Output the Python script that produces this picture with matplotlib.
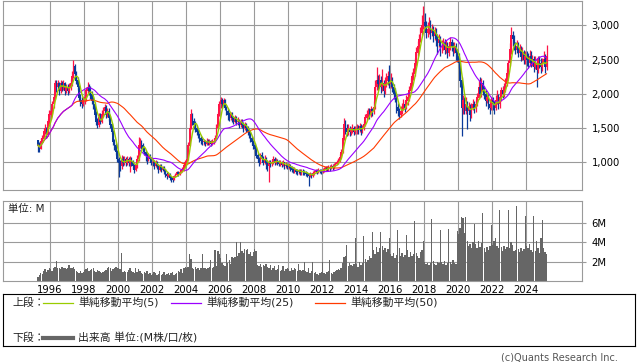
import matplotlib
matplotlib.use("Agg")
import matplotlib.pyplot as plt
from matplotlib.lines import Line2D
import numpy as np
import pandas as pd

plt.rcParams['font.family'] = ['DejaVu Sans', 'Noto Sans CJK JP']

# monthly data, Apr 1995 .. Mar 2025
start_year, start_month = 1995, 4
first_open = 1320

closes = [
    1250, 1200, 1300, 1350, 1450, 1500, 1400, 1600, 1700,                   # 1995 Apr-Dec
    1750, 1850, 1950, 2150, 2100, 2150, 2050, 2150, 2100, 2150, 2050, 2100, # 1996
    2050, 2100, 2150, 2250, 2400, 2300, 2200, 2100, 1950, 1900, 1850, 1900, # 1997
    1950, 2050, 2100, 2050, 2000, 1900, 1850, 1700, 1600, 1550, 1650, 1600, # 1998
    1700, 1750, 1800, 1700, 1750, 1650, 1550, 1450, 1300, 1250, 1150, 1050, # 1999
    1000, 950, 1050, 1000, 1050, 1000, 1050, 1000, 1050, 1000, 950, 900,    # 2000
    950, 1050, 1250, 1300, 1250, 1200, 1150, 1100, 1050, 1100, 1050, 1000,  # 2001
    1000, 950, 1000, 950, 900, 950, 900, 920, 880, 830, 800, 820,           # 2002
    780, 760, 750, 800, 820, 850, 830, 860, 880, 900, 950, 1000,            # 2003
    1050, 1250, 1500, 1700, 1600, 1550, 1500, 1450, 1400, 1350, 1320, 1300, # 2004
    1300, 1280, 1310, 1290, 1300, 1280, 1300, 1310, 1350, 1500, 1700, 1850, # 2005
    1900, 1850, 1900, 1800, 1750, 1700, 1650, 1700, 1650, 1600, 1650, 1600, # 2006
    1600, 1550, 1600, 1550, 1500, 1550, 1500, 1450, 1400, 1350, 1300, 1250, # 2007
    1200, 1100, 1050, 1000, 1100, 1050, 1000, 1050, 1000, 950, 1000, 980,   # 2008
    1000, 1050, 1000, 1020, 1000, 980, 1000, 970, 1000, 950, 960, 940,      # 2009
    950, 920, 900, 880, 900, 870, 860, 880, 850, 870, 860, 850,             # 2010
    840, 820, 800, 830, 810, 840, 860, 880, 870, 890, 880, 870,             # 2011
    890, 900, 920, 910, 930, 920, 940, 930, 960, 980, 1000, 1020,           # 2012
    1080, 1150, 1350, 1550, 1500, 1450, 1500, 1450, 1480, 1500, 1450, 1480, # 2013
    1500, 1480, 1520, 1470, 1500, 1550, 1650, 1700, 1750, 1700, 1780, 1750, # 2014
    1800, 2100, 2200, 2150, 2200, 2100, 2150, 2050, 2150, 2200, 2250, 2150, # 2015
    2200, 2100, 2000, 1950, 1800, 1750, 1700, 1750, 1800, 1850, 1800, 1900, # 2016
    1950, 2050, 2150, 2250, 2300, 2450, 2600, 2700, 2800, 2900, 3000, 3050, # 2017
    3000, 2900, 2950, 3000, 2900, 2950, 2850, 2900, 2800, 2750, 2800, 2700, # 2018
    2700, 2750, 2650, 2700, 2600, 2700, 2750, 2700, 2650, 2700, 2600, 2550, # 2019
    2450, 2200, 1800, 1900, 1750, 1850, 1750, 1800, 1700, 1800, 1850, 1800, # 2020
    1850, 1950, 2100, 2000, 2150, 2050, 2000, 1900, 1950, 1850, 1800, 1900, # 2021
    1850, 1800, 1900, 1950, 1850, 1950, 2050, 2000, 2100, 2150, 2300, 2450, # 2022
    2650, 2850, 2800, 2700, 2650, 2700, 2600, 2650, 2550, 2600, 2500, 2550, # 2023
    2500, 2450, 2550, 2450, 2500, 2400, 2450, 2350, 2500, 2450, 2400, 2450, # 2024
    2500, 2400, 2550,                                                       # 2025 Jan-Mar
]

highs = [
    1330, 1290, 1360, 1400, 1500, 1560, 1520, 1640, 1760,
    1800, 1900, 2000, 2200, 2200, 2210, 2180, 2200, 2190, 2200, 2170, 2150,
    2140, 2160, 2220, 2330, 2500, 2430, 2330, 2250, 2130, 2000, 1950, 1960,
    2000, 2100, 2180, 2150, 2120, 2040, 1950, 1880, 1750, 1650, 1720, 1720,
    1760, 1810, 1850, 1840, 1800, 1790, 1680, 1580, 1470, 1340, 1280, 1180,
    1080, 1040, 1100, 1090, 1090, 1080, 1090, 1080, 1090, 1080, 1040, 980,
    990, 1100, 1370, 1350, 1320, 1280, 1230, 1180, 1130, 1140, 1120, 1080,
    1050, 1030, 1030, 1020, 980, 980, 980, 950, 940, 900, 860, 850,
    840, 800, 790, 820, 850, 880, 880, 890, 910, 930, 980, 1040,
    1090, 1300, 1560, 1775, 1720, 1650, 1600, 1540, 1480, 1430, 1380, 1360,
    1340, 1330, 1350, 1340, 1340, 1320, 1340, 1350, 1400, 1560, 1740, 1900,
    1950, 1940, 1940, 1920, 1830, 1790, 1740, 1740, 1730, 1680, 1690, 1680,
    1660, 1630, 1640, 1640, 1590, 1590, 1580, 1530, 1480, 1440, 1380, 1330,
    1280, 1230, 1140, 1080, 1140, 1150, 1090, 1100, 1080, 1030, 1040, 1040,
    1050, 1090, 1080, 1060, 1050, 1040, 1040, 1020, 1040, 1010, 1000, 990,
    990, 970, 940, 930, 930, 910, 900, 910, 900, 900, 900, 890,
    880, 860, 850, 860, 850, 870, 890, 910, 900, 920, 910, 900,
    920, 930, 950, 950, 960, 960, 970, 970, 990, 1010, 1040, 1060,
    1120, 1200, 1400, 1645, 1620, 1560, 1560, 1530, 1520, 1560, 1530, 1530,
    1560, 1550, 1580, 1560, 1550, 1600, 1700, 1760, 1800, 1790, 1820, 1800,
    1900, 2200, 2390, 2280, 2290, 2260, 2370, 2200, 2240, 2310, 2340, 2420,
    2300, 2250, 2150, 2080, 2000, 1870, 1800, 1820, 1870, 1920, 1900, 1980,
    2000, 2120, 2230, 2320, 2380, 2520, 2680, 2770, 2880, 2980, 3150, 3280,
    3180, 3060, 3050, 3120, 3080, 3020, 2990, 2980, 2960, 2880, 2870, 2850,
    2780, 2820, 2800, 2780, 2760, 2760, 2830, 2800, 2760, 2760, 2740, 2660,
    2600, 2500, 2250, 1980, 1950, 1950, 1900, 1880, 1850, 1870, 1920, 1900,
    1920, 2020, 2200, 2250, 2230, 2200, 2110, 2060, 2000, 2000, 1920, 1960,
    1960, 1900, 1980, 2050, 2000, 2020, 2100, 2120, 2160, 2230, 2360, 2500,
    2750, 2970, 2920, 2860, 2760, 2780, 2760, 2730, 2700, 2680, 2640, 2620,
    2620, 2600, 2640, 2620, 2570, 2560, 2560, 2520, 2560, 2560, 2520, 2530,
    2620, 2580, 2720,
]

lows = [
    1150, 1150, 1190, 1280, 1330, 1420, 1360, 1390, 1560,
    1640, 1710, 1800, 1920, 2030, 2050, 1990, 2010, 2040, 2060, 1990, 2010,
    1980, 2010, 2060, 2110, 2230, 2230, 2140, 2050, 1900, 1820, 1800, 1820,
    1850, 1900, 2010, 1990, 1930, 1850, 1780, 1660, 1540, 1500, 1520, 1560,
    1570, 1660, 1710, 1650, 1660, 1600, 1500, 1410, 1250, 1180, 1100, 1000,
    790, 880, 910, 950, 960, 950, 960, 950, 860, 940, 900, 850,
    870, 920, 1020, 1210, 1200, 1150, 1100, 1020, 980, 1020, 1000, 960,
    940, 910, 930, 900, 850, 870, 860, 870, 830, 790, 760, 780,
    740, 710, 720, 740, 780, 800, 800, 820, 840, 860, 880, 930,
    980, 1040, 1240, 1480, 1540, 1480, 1440, 1400, 1350, 1300, 1270, 1260,
    1260, 1240, 1250, 1250, 1260, 1240, 1250, 1270, 1290, 1340, 1480, 1680,
    1800, 1790, 1820, 1760, 1690, 1620, 1600, 1620, 1590, 1560, 1570, 1550,
    1540, 1500, 1520, 1500, 1450, 1470, 1450, 1400, 1350, 1300, 1260, 1200,
    1130, 1060, 1000, 950, 980, 1000, 960, 980, 900, 880, 710, 930,
    950, 970, 960, 970, 960, 940, 950, 930, 950, 910, 920, 900,
    910, 880, 860, 840, 850, 830, 820, 830, 810, 820, 820, 810,
    800, 780, 660, 780, 770, 790, 820, 840, 830, 850, 840, 830,
    850, 860, 880, 870, 880, 880, 900, 890, 910, 940, 960, 980,
    1000, 1060, 1130, 1330, 1420, 1390, 1400, 1390, 1400, 1430, 1400, 1410,
    1420, 1420, 1440, 1400, 1430, 1470, 1530, 1620, 1660, 1630, 1660, 1680,
    1700, 1780, 2050, 2060, 2080, 2020, 2040, 1960, 2000, 2100, 2130, 2080,
    2080, 2030, 1920, 1880, 1720, 1680, 1640, 1660, 1700, 1760, 1730, 1780,
    1840, 1900, 2010, 2120, 2200, 2260, 2400, 2550, 2660, 2760, 2860, 2950,
    2900, 2820, 2830, 2880, 2800, 2840, 2760, 2790, 2700, 2580, 2680, 2550,
    2600, 2640, 2580, 2600, 2520, 2560, 2640, 2620, 2560, 2590, 2500, 2470,
    2380, 2100, 1380, 1700, 1700, 1700, 1485, 1700, 1600, 1650, 1760, 1720,
    1740, 1820, 1920, 1960, 1960, 1980, 1920, 1830, 1860, 1780, 1700, 1760,
    1760, 1700, 1760, 1850, 1780, 1800, 1900, 1940, 1950, 2030, 2120, 2250,
    2400, 2580, 2700, 2640, 2580, 2600, 2540, 2560, 2480, 2500, 2440, 2440,
    2410, 2380, 2400, 2390, 2400, 2320, 2360, 2100, 2300, 2380, 2300, 2340,
    2400, 2300, 2350,
]

# volume in millions
volume = [
    0.4, 0.6, 0.8, 0.7, 1.0, 1.2, 0.9, 1.1, 1.3,
    1.2, 1.0, 1.3, 1.5, 2.1, 1.4, 1.3, 1.2, 1.5, 1.3, 1.4, 1.2,
    1.3, 1.7, 1.4, 1.3, 1.5, 1.2, 1.0, 0.9, 0.8, 1.0, 0.8, 0.9,
    1.1, 1.2, 1.3, 1.0, 1.1, 1.2, 1.3, 1.0, 0.9, 1.1, 1.0, 0.9,
    0.8, 0.9, 1.0, 1.1, 1.4, 1.5, 1.3, 1.0, 1.2, 1.4, 1.5, 1.3,
    1.4, 1.2, 2.9, 0.9, 1.0, 0.9, 0.9, 1.1, 1.4, 1.0, 0.9, 0.8,
    1.4, 0.9, 1.2, 1.0, 0.8, 0.7, 0.9, 0.8, 1.0, 0.7, 0.8, 0.6,
    0.7, 0.9, 0.8, 0.6, 0.7, 1.0, 0.6, 0.7, 0.9, 0.6, 0.7, 0.8,
    0.6, 0.8, 0.9, 0.6, 0.7, 0.8, 1.0, 0.9, 1.2, 0.8, 1.3, 1.5,
    1.3, 1.5, 2.75, 2.3, 1.4, 1.2, 1.5, 1.2, 1.4, 1.1, 1.3, 2.75,
    1.3, 1.4, 1.2, 1.3, 1.5, 2.2, 1.4, 1.5, 3.2, 1.6, 3.1, 2.8,
    2.4, 1.9, 1.7, 1.6, 2.75, 1.9, 2.2, 1.8, 2.5, 2.4, 2.5, 4.0,
    2.6, 2.9, 4.0, 3.1, 2.9, 3.3, 3.2, 3.3, 2.8, 3.0, 2.6, 3.0,
    3.3, 3.1, 1.7, 1.6, 1.8, 1.5, 1.7, 1.6, 1.8, 1.5, 1.4, 1.7,
    1.1, 1.3, 1.6, 1.1, 1.2, 1.7, 1.0, 1.1, 1.6, 1.0, 1.2, 1.3,
    1.2, 1.0, 1.3, 1.1, 1.4, 1.2, 1.0, 1.8, 1.1, 1.0, 1.1, 2.0,
    1.0, 0.9, 1.4, 0.8, 1.0, 2.0, 0.8, 0.9, 0.7, 0.6, 0.8, 0.9,
    2.0, 0.8, 0.7, 0.9, 1.0, 2.2, 0.8, 0.7, 0.9, 1.0, 1.1, 1.2,
    1.1, 1.3, 1.9, 2.5, 2.6, 3.7, 1.6, 1.9, 1.7, 1.6, 1.8, 4.5,
    1.8, 1.5, 2.0, 1.7, 1.9, 4.65, 2.3, 2.0, 2.2, 2.6, 2.4, 5.1,
    3.2, 2.8, 3.5, 3.0, 3.4, 5.1, 3.6, 3.2, 3.4, 3.0, 3.3, 4.5,
    2.8, 2.6, 2.9, 2.4, 2.7, 5.3, 3.4, 2.6, 2.9, 2.5, 2.7, 4.75,
    3.2, 2.5, 3.0, 2.6, 2.8, 6.2, 2.9, 2.6, 2.4, 3.0, 3.2, 4.2,
    2.0, 1.8, 1.9, 1.7, 1.9, 6.4, 2.1, 1.8, 1.7, 2.0, 1.9, 5.3,
    2.0, 1.8, 2.1, 1.7, 1.9, 5.4, 2.0, 1.8, 2.2, 1.9, 1.8, 5.2,
    4.9, 5.5, 6.6, 6.5, 5.0, 6.6, 4.2, 3.6, 3.8, 3.4, 4.0, 5.9,
    3.8, 3.4, 4.2, 3.5, 3.9, 7.1, 3.4, 3.0, 3.5, 3.2, 3.6, 5.8,
    3.7, 4.2, 4.5, 3.6, 3.4, 7.4, 3.5, 3.1, 3.6, 3.3, 3.5, 7.4,
    3.4, 4.0, 3.7, 3.1, 3.2, 7.8, 3.3, 3.0, 3.4, 3.1, 3.3, 6.7,
    3.6, 3.4, 3.8, 3.2, 3.0, 6.7, 3.1, 4.2, 3.4, 2.9, 4.5, 6.3,
    3.4, 3.0, 2.8,
]

year_ticks = list(range(1996, 2025, 2))
price_ticks = [1000, 1500, 2000, 2500, 3000]
vol_ticks = [2, 4, 6]

n = len(closes)
t = np.array([start_year + (start_month - 1 + i) // 12 + (((start_month - 1 + i) % 12) + 0.5) / 12
              for i in range(n)])
close = np.array(closes, dtype=float)
opens = np.concatenate([[first_open], close[:-1]])
high = np.array(highs, dtype=float)
low = np.array(lows, dtype=float)
s = pd.Series(close)
ma5 = s.rolling(5, min_periods=1).mean()
ma25 = s.rolling(25, min_periods=1).mean()
ma50 = s.rolling(50, min_periods=1).mean()

RED = '#ff1447'
BLUE = '#0a3a9a'
GRID = '#9a9a9a'
W, H = 638, 362

fig = plt.figure(figsize=(W / 100, H / 100), dpi=100)

def fx(px):
    return px / W

def fy(py):
    return 1 - py / H

ax = fig.add_axes([fx(3), fy(190), fx(579), 190 / H - 0.5 / H])
axv = fig.add_axes([fx(3), fy(281), fx(579), 80 / H])

x0, x1 = 1996 - 47 / 17, 1996 + 532 / 17

# candles
up = close >= opens
cols = np.where(up, RED, BLUE)
ax.vlines(t, low, high, colors=cols, lw=0.9, zorder=2)
ax.bar(t, np.abs(close - opens) + 10, bottom=np.minimum(close, opens) - 5,
       width=0.1, color=cols, linewidth=0, zorder=2)
ax.plot(t, ma50, color='#ff3a00', lw=0.8, zorder=3)
ax.plot(t, ma25, color='#9b00ff', lw=0.8, zorder=3)
ax.plot(t, ma5, color='#99cc00', lw=1.0, zorder=4)

ax.set_xlim(x0, x1)
ax.set_ylim(596, 3364)
ax.set_xticks(year_ticks)
ax.set_xticklabels([])
ax.set_yticks(price_ticks)
ax.set_yticklabels(['{:,}'.format(v) for v in price_ticks])
ax.yaxis.tick_right()
ax.tick_params(axis='x', length=0)
ax.tick_params(axis='y', length=3, color=GRID, pad=4, labelsize=7.2)
ax.grid(True, color=GRID, lw=0.8)
ax.set_axisbelow(True)
for sp in ax.spines.values():
    sp.set_color(GRID)
    sp.set_linewidth(0.8)

# volume
axv.bar(t, volume, width=1 / 12, color='#666666', linewidth=0, zorder=2)
axv.set_xlim(x0, x1)
axv.set_ylim(0, 8.3)
axv.set_xticks(year_ticks)
axv.set_xticklabels([str(y) for y in year_ticks])
axv.set_yticks(vol_ticks)
axv.set_yticklabels(['{}M'.format(v) for v in vol_ticks])
axv.yaxis.tick_right()
axv.tick_params(axis='x', length=0, pad=3, labelsize=7.2)
axv.tick_params(axis='y', length=3, color=GRID, pad=4, labelsize=7.2)
axv.grid(True, color=GRID, lw=0.8)
axv.set_axisbelow(True)
for sp in axv.spines.values():
    sp.set_color(GRID)
    sp.set_linewidth(0.8)
axv.text(0.009, 0.9, '単位: M', transform=axv.transAxes, fontsize=7.5,
         ha='left', va='center', color='#222222')

# legend box
axl = fig.add_axes([fx(3), fy(346), fx(632), 52 / H])
axl.set_xlim(0, 632)
axl.set_ylim(52, 0)
axl.set_xticks([])
axl.set_yticks([])
for sp in axl.spines.values():
    sp.set_color('black')
    sp.set_linewidth(0.8)

ly1, ly2 = 9, 43.5
axl.text(9, ly1, '上段：', fontsize=7.8, va='center', ha='left', color='#222222')
items = [(40, '#99cc00', '単純移動平均(5)'),
         (168, '#9b00ff', '単純移動平均(25)'),
         (312, '#ff3a00', '単純移動平均(50)')]
for lx, c, lab in items:
    axl.add_line(Line2D([lx, lx + 30], [ly1, ly1], color=c, lw=0.9))
    axl.text(lx + 35, ly1, lab, fontsize=7.8, va='center', ha='left', color='#222222')
axl.text(9, ly2, '下段：', fontsize=7.8, va='center', ha='left', color='#222222')
axl.add_line(Line2D([40, 70], [ly2, ly2], color='#666666', lw=3))
axl.text(75, ly2, '出来高 単位:(M株/口/枚)', fontsize=7.8, va='center', ha='left', color='#222222')

fig.text(fx(618), fy(357), '(c)Quants Research Inc.', fontsize=7, ha='right',
         va='center', color='#555555')

fig.savefig('out.png', dpi=100)
